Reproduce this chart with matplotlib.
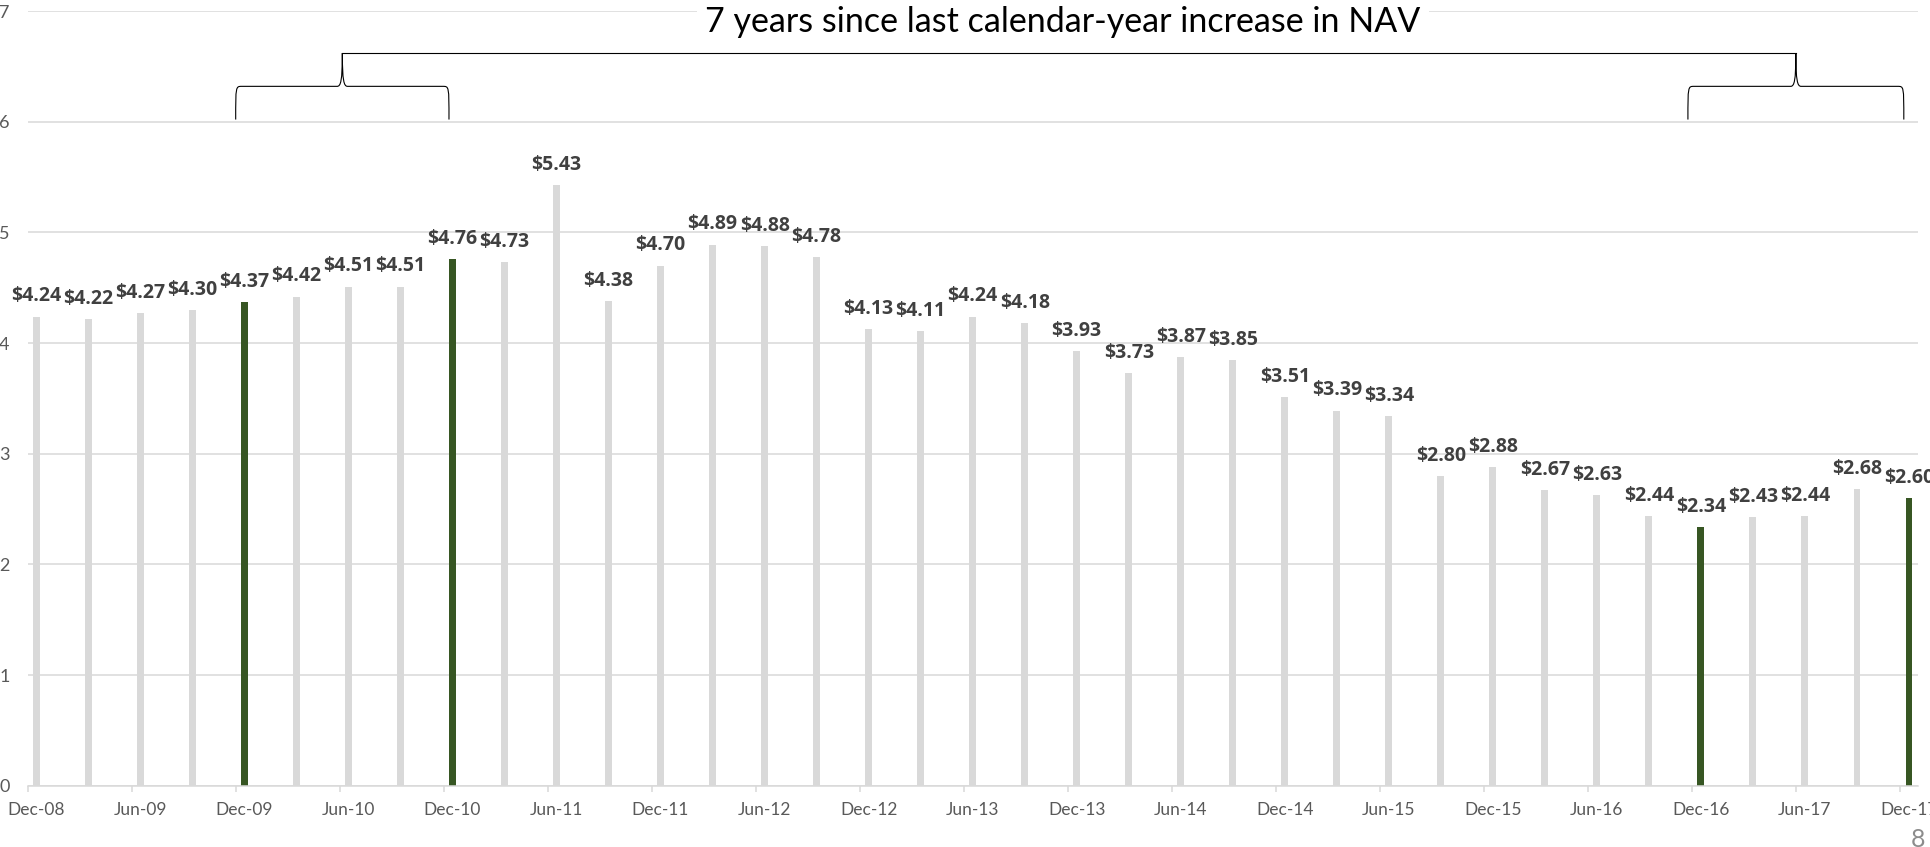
import matplotlib.pyplot as plt
from matplotlib.path import Path
from matplotlib.patches import PathPatch

plt.rcParams['font.family'] = ['Lato', 'DejaVu Sans']

quarters = ['Dec-08', 'Mar-09', 'Jun-09', 'Sep-09', 'Dec-09', 'Mar-10', 'Jun-10', 'Sep-10',
            'Dec-10', 'Mar-11', 'Jun-11', 'Sep-11', 'Dec-11', 'Mar-12', 'Jun-12', 'Sep-12',
            'Dec-12', 'Mar-13', 'Jun-13', 'Sep-13', 'Dec-13', 'Mar-14', 'Jun-14', 'Sep-14',
            'Dec-14', 'Mar-15', 'Jun-15', 'Sep-15', 'Dec-15', 'Mar-16', 'Jun-16', 'Sep-16',
            'Dec-16', 'Mar-17', 'Jun-17', 'Sep-17', 'Dec-17']
nav = [4.24, 4.22, 4.27, 4.30, 4.37, 4.42, 4.51, 4.51, 4.76, 4.73, 5.43, 4.38, 4.70,
       4.89, 4.88, 4.78, 4.13, 4.11, 4.24, 4.18, 3.93, 3.73, 3.87, 3.85, 3.51, 3.39,
       3.34, 2.80, 2.88, 2.67, 2.63, 2.44, 2.34, 2.43, 2.44, 2.68, 2.60]
highlight = ['Dec-09', 'Dec-10', 'Dec-16', 'Dec-17']
title = '7 years since last calendar-year increase in NAV'

GRAY = '#D9D9D9'
GREEN = '#375623'

fig = plt.figure(figsize=(19.31, 8.47), dpi=100)
ax = fig.add_axes([0.0143, 0.0724, 0.9788, 0.9145])

# date axis in months, one bar every quarter, centred in its month slot
xpos = [3 * i + 0.5 for i in range(len(quarters))]
colors = [GREEN if q in highlight else GRAY for q in quarters]
ax.bar(xpos, nav, width=0.40, color=colors, zorder=2)

for x, v in zip(xpos, nav):
    ax.annotate(f'${v:.2f}', (x, v), xytext=(0, 14.5), textcoords='offset points',
                ha='center', va='center', fontsize=14, fontweight='bold',
                family=['Open Sans', 'DejaVu Sans'], color='#404040')

ax.set_xlim(0, 3 * (len(quarters) - 1) + 1)
ax.set_ylim(0, 7)
ax.set_yticks(range(8))
ax.yaxis.grid(True, color=GRAY, linewidth=1.1)
ax.set_axisbelow(True)

ax.set_xticks([6 * k for k in range(len(quarters[::2]))])
ax.set_xticklabels([])
ax.set_xticks([6 * k + 0.5 for k in range(len(quarters[::2]))], minor=True)
ax.set_xticklabels(quarters[::2], minor=True)
ax.tick_params(axis='x', which='major', direction='out', length=4, width=1.1, color=GRAY)
ax.tick_params(axis='x', which='minor', length=0, pad=12, labelsize=12.5, labelcolor='#595959')
ax.tick_params(axis='y', length=0, pad=13, labelsize=13, labelcolor='#595959')

for s in ['top', 'right', 'left']:
    ax.spines[s].set_visible(False)
ax.spines['bottom'].set_color(GRAY)
ax.spines['bottom'].set_linewidth(1.1)

ax.annotate(title, (59.7, 7), xytext=(0, -8), textcoords='offset points',
            ha='center', va='center', fontsize=24.5, color='black', zorder=5,
            bbox=dict(facecolor='white', edgecolor='none', pad=6))


def brace(x0, x1, yb, yh, yt, rx=0.35, rc=0.3):
    xm = (x0 + x1) / 2
    verts = [(x0, yb), (x0, yh), (x0, yh), (x0 + rx, yh),
             (xm - rc, yh),
             (xm - rc * 0.3, yh), (xm, yh + 0.05), (xm, yt),
             (xm, yh + 0.05), (xm + rc * 0.3, yh), (xm + rc, yh),
             (x1 - rx, yh),
             (x1, yh), (x1, yh), (x1, yb)]
    codes = [Path.MOVETO, Path.CURVE4, Path.CURVE4, Path.CURVE4,
             Path.LINETO,
             Path.CURVE4, Path.CURVE4, Path.CURVE4,
             Path.CURVE4, Path.CURVE4, Path.CURVE4,
             Path.LINETO,
             Path.CURVE4, Path.CURVE4, Path.CURVE4]
    ax.add_patch(PathPatch(Path(verts, codes), facecolor='none', edgecolor='black',
                           linewidth=0.8, zorder=4))
    return xm


i0, i1 = quarters.index('Dec-09'), quarters.index('Dec-10')
j0, j1 = quarters.index('Dec-16'), quarters.index('Dec-17')
m_left = brace(xpos[i0] - 0.5, xpos[i1] - 0.2, 6.02, 6.32, 6.62)
m_right = brace(xpos[j0] - 0.75, xpos[j1] - 0.3, 6.02, 6.32, 6.62)
ax.plot([m_left, m_right], [6.62, 6.62], color='black', linewidth=0.8, zorder=4)

fig.text(0.9935, 0.0224, '8', ha='center', va='top', fontsize=18, color='#8C8C8C')

fig.savefig('out.png', dpi=100)
